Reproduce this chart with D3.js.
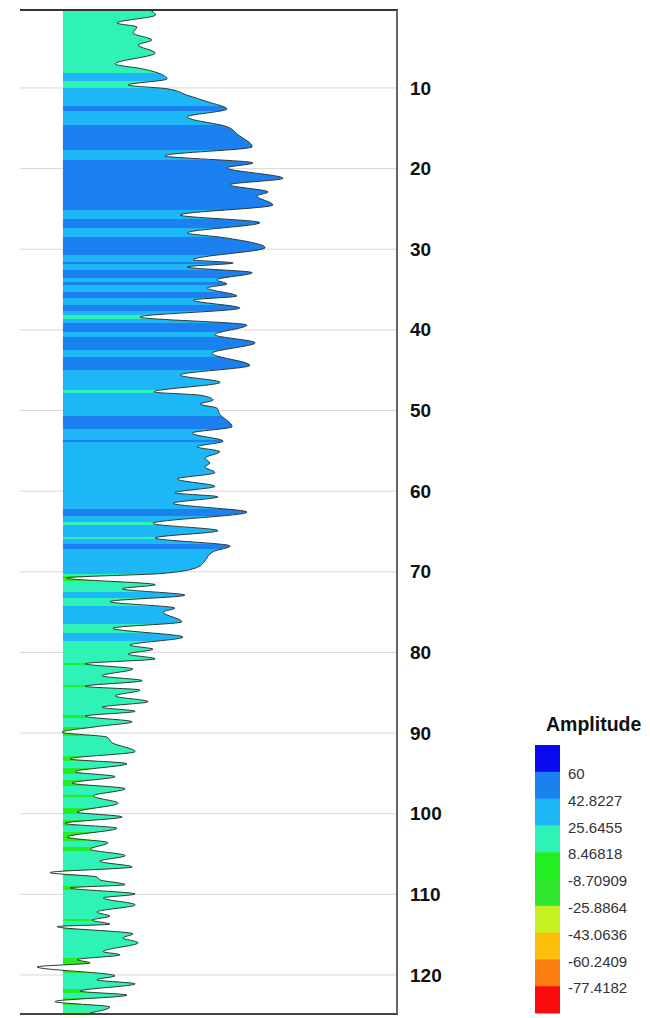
<!DOCTYPE html>
<html>
<head>
<meta charset="utf-8">
<script src="https://cdn.jsdelivr.net/npm/d3@7"></script>
<style>
    body { margin: 0; background: #fff; }
    svg { display: block; font-family: "Liberation Sans", Arial, sans-serif; }
</style>
</head>
<body>
<div id="chart"></div>
<script>
// Trace key points (depth, amplitude): peaks and troughs
const depth = [
    0.33, 0.95, 1.94, 2.44, 3.18, 4.05, 4.67, 5.66, 7.02, 7.64, 8.88, 9.63,
    10.1, 10.9, 11.7, 12.6, 13.6, 14.8, 15.8, 17.3, 18.4, 19.3, 19.9, 21.2,
    22.0, 22.9, 23.4, 24.5, 25.75, 26.7, 27.98, 28.5, 29.8, 31.3, 31.7, 32.2,
    32.9, 33.8, 34.3, 34.8, 35.8, 36.3, 37.3, 38.4, 39.4, 40.6, 41.6, 42.9,
    44.4, 45.6, 46.5, 47.7, 48.1, 48.7, 49.2, 49.7, 50.4, 52.0, 52.8, 53.8,
    54.5, 55.1, 55.9, 56.5, 57.0, 57.7, 58.5, 59.4, 60.2, 60.7, 61.5, 62.6,
    64.0, 64.9, 65.8, 66.8, 67.5, 68.8, 69.4, 70.2, 70.77,
    71.6, 72.1, 72.9, 73.7, 74.5, 75.0, 76.2, 77.0, 78.1, 79.1, 79.6, 80.2,
    80.8, 81.4, 82.05, 82.9, 83.5, 84.2, 84.66, 85.4, 86.1, 86.8, 87.3, 87.9,
    88.6, 89.2, 89.9, 90.5, 91.2, 92.3, 93.2, 93.8, 94.8, 95.4, 96.2,
    96.9, 97.8, 98.7, 99.8, 100.4, 101.2, 101.8, 102.9, 103.6, 104.4, 105.2,
    105.9, 106.6, 107.3, 107.85, 108.2, 108.8, 109.2, 109.96, 110.45, 111.3,
    112.2, 112.7, 113.2, 113.7, 114.0, 114.9, 115.4, 116.0, 117.1, 117.5,
    118.1, 118.5, 119.0, 120.1, 120.6, 121.1, 122.0, 122.5, 123.3, 123.97, 124.7
];
const amplitude = [
    23.5, 25.0, 14.6, 20.0, 18.9, 24.0, 20.3, 24.9, 14.1, 21.6, 28.1, 17.6,
    28.1, 33.5, 38.9, 44.2, 33.5, 44.2, 47.2, 51.0, 27.5, 51.2, 44.2, 59.3,
    45.0, 55.3, 52.3, 56.6, 31.6, 53.1, 33.5, 42.4, 54.5, 35.1, 45.9, 33.5,
    51.0, 41.5, 44.2, 38.9, 46.9, 35.1, 47.7, 20.8, 49.6, 41.0, 51.8, 40.2,
    50.4, 31.6, 42.4, 24.5, 37.0, 40.5, 37.0, 41.5, 42.2, 45.6, 34.8, 43.2,
    36.2, 42.3, 38.3, 39.6, 38.3, 41.0, 30.8, 41.0, 30.2, 41.8, 29.7, 49.6,
    24.3, 41.8, 24.9, 45.1, 40.5, 38.0, 36.5, 27.0, 1.0,
    24.9, 16.0, 32.9, 12.7, 30.2, 27.0, 32.1, 13.5, 32.4, 18.1, 24.3, 17.6,
    24.9, 6.0, 18.9, 10.6, 21.4, 6.0, 20.8, 14.1, 23.0, 10.6, 19.5, 6.0,
    18.7, 9.2, -0.2, 11.9, 13.3, 19.5, 2.0, 17.3, 3.3, 14.1, 2.5,
    16.8, 8.2, 14.9, 3.9, 16.0, 0.6, 14.6, 1.2, 12.2, 7.4, 16.8,
    10.0, 18.7, -3.4, 9.2, 10.0, 16.8, 2.0, 19.5, 10.9, 19.5,
    9.2, 12.7, 7.9, 12.7, -1.5, 18.9, 16.2, 20.3, 10.9, 15.4,
    3.9, 7.4, -6.9, 14.1, 9.2, 19.5, 4.7, 17.3, -2.1, 12.7, 7.4
];

// Colour bar
const bandEdges = [-77.4182, -60.2409, -43.0636, -25.8864, -8.70909, 8.46818, 25.6455, 42.8227, 60];
const bandColors = ["#fb0c0c", "#fb7d10", "#fcbd0b", "#c6f021", "#30e830", "#22ee22", "#2ef2b6", "#1db7f8", "#1b80f0", "#0a0aef"];
const legendLabels = ["60", "42.8227", "25.6455", "8.46818", "-8.70909", "-25.8864", "-43.0636", "-60.2409", "-77.4182"];

const depthTicks = [10, 20, 30, 40, 50, 60, 70, 80, 90, 100, 110, 120];

const W = 650, H = 1018;
const plotLeft = 20, plotRight = 397, plotTop = 10, plotBottom = 1014;

const svg = d3.select("#chart")
    .append("svg")
    .attr("width", W)
    .attr("height", H);

const x = d3.scaleLinear().domain([-11.5, 90]).range([plotLeft, plotRight]);
const y = d3.scaleLinear().domain([0.33, 124.84]).range([plotTop, plotBottom]);
const color = d3.scaleThreshold().domain(bandEdges).range(bandColors);

const pts = depth.map((d, i) => ({ d: d, a: amplitude[i] }));

// Grid lines
svg.append("g")
    .selectAll("line")
    .data(depthTicks)
    .join("line")
    .attr("x1", plotLeft)
    .attr("x2", plotRight)
    .attr("y1", d => y(d))
    .attr("y2", d => y(d))
    .attr("stroke", "#d8d8d8")
    .attr("stroke-width", 1);

// Clip to the positive lobe of the trace
const area = d3.area()
    .x0(x(0))
    .x1(p => x(p.a))
    .y(p => y(p.d))
    .curve(d3.curveMonotoneY);

svg.append("clipPath")
    .attr("id", "areaClip")
    .append("path")
    .attr("d", area(pts));

const fillG = svg.append("g").attr("clip-path", "url(#areaClip)");

const line = d3.line()
    .x(p => x(p.a))
    .y(p => y(p.d))
    .curve(d3.curveMonotoneY);

svg.append("path")
    .datum(pts)
    .attr("d", line)
    .attr("fill", "none")
    .attr("stroke", "#2c3a34")
    .attr("stroke-width", 1);

// Record the curve segments, then colour each pixel row by the trace amplitude there
const segs = [];
let cx = 0, cy = 0;
const recorder = {
    moveTo(px, py) { cx = px; cy = py; },
    lineTo(px, py) { segs.push([cx, cy, cx, cy, px, py, px, py]); cx = px; cy = py; },
    bezierCurveTo(x1, y1, x2, y2, px, py) { segs.push([cx, cy, x1, y1, x2, y2, px, py]); cx = px; cy = py; },
    closePath() {}
};
line.context(recorder)(pts);
line.context(null);

const rows = new Map();
segs.forEach(s => {
    for (let k = 0; k <= 60; k++) {
        const t = k / 60, u = 1 - t;
        const b0 = u * u * u, b1 = 3 * u * u * t, b2 = 3 * u * t * t, b3 = t * t * t;
        const px = b0 * s[0] + b1 * s[2] + b2 * s[4] + b3 * s[6];
        const py = b0 * s[1] + b1 * s[3] + b2 * s[5] + b3 * s[7];
        const r = Math.floor(py);
        const dist = Math.abs(py - (r + 0.5));
        const prev = rows.get(r);
        if (!prev || dist < prev.dist) rows.set(r, { x: px, dist: dist });
    }
});

const runs = [];
let last = null;
for (let r = plotTop; r < plotBottom; r++) {
    const row = rows.get(r);
    const c = row ? color(x.invert(row.x)) : (last ? last.c : bandColors[6]);
    if (last && last.c === c) {
        last.y1 = r + 1;
    } else {
        last = { c: c, y0: r, y1: r + 1 };
        runs.push(last);
    }
}

fillG.selectAll("rect")
    .data(runs)
    .join("rect")
    .attr("x", x(0))
    .attr("width", plotRight - x(0))
    .attr("y", d => d.y0)
    .attr("height", d => d.y1 - d.y0)
    .attr("fill", d => d.c);

// Frame
svg.append("line")
    .attr("x1", plotLeft).attr("x2", plotRight + 1)
    .attr("y1", plotTop).attr("y2", plotTop)
    .attr("stroke", "#333").attr("stroke-width", 2);
svg.append("line")
    .attr("x1", plotLeft).attr("x2", plotRight + 1)
    .attr("y1", plotBottom).attr("y2", plotBottom)
    .attr("stroke", "#444").attr("stroke-width", 2);
svg.append("line")
    .attr("x1", plotRight).attr("x2", plotRight)
    .attr("y1", plotTop).attr("y2", plotBottom)
    .attr("stroke", "#666").attr("stroke-width", 2);

// Depth axis on the right
svg.append("g")
    .attr("transform", `translate(${plotRight},0)`)
    .call(d3.axisRight(y).tickValues(depthTicks).tickSize(0).tickPadding(13).tickFormat(d3.format("d")))
    .call(g => g.select(".domain").remove())
    .selectAll("text")
    .attr("font-family", "'Liberation Sans', Arial, sans-serif")
    .attr("font-size", 19)
    .attr("font-weight", "bold")
    .attr("fill", "#111");

// Legend
const legendX = 535, legendW = 25;
const legendY = d3.scaleBand()
    .domain(d3.range(bandColors.length))
    .range([745, 1013]);

const legend = svg.append("g");

legend.append("text")
    .attr("x", 546)
    .attr("y", 731)
    .attr("font-size", 19.5)
    .attr("font-weight", "bold")
    .attr("fill", "#111")
    .text("Amplitude");

legend.selectAll("rect")
    .data(bandColors.slice().reverse())
    .join("rect")
    .attr("x", legendX)
    .attr("y", (d, i) => legendY(i))
    .attr("width", legendW)
    .attr("height", legendY.bandwidth() + 0.5)
    .attr("fill", d => d);

legend.selectAll("text.lab")
    .data(legendLabels)
    .join("text")
    .attr("class", "lab")
    .attr("x", 568)
    .attr("y", (d, i) => legendY(i + 1) + 2)
    .attr("dy", "0.35em")
    .attr("font-size", 15)
    .attr("fill", "#333")
    .text(d => d);
</script>
</body>
</html>
